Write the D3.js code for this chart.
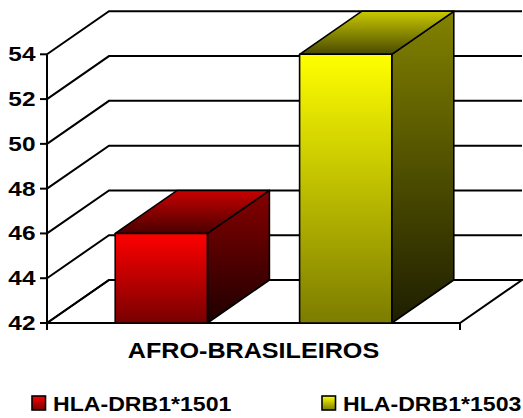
<!DOCTYPE html>
<html>
<head>
<meta charset="utf-8">
<script src="https://cdn.jsdelivr.net/npm/d3@7/dist/d3.min.js"></script>
<style>
  html, body { margin: 0; padding: 0; background: #fff; }
  svg { display: block; }
  text { font-family: "Liberation Sans", Arial, sans-serif; font-weight: bold; fill: #000; }
</style>
</head>
<body>
<svg id="chart" width="523" height="418"></svg>
<script>
// Chart data
const categories = ["AFRO-BRASILEIROS"];
const seriesNames = ["HLA-DRB1*1501", "HLA-DRB1*1503"];
const seriesValues = [46, 54];
const yTicks = [42, 44, 46, 48, 50, 52, 54];

// Face colours for each series: [light, dark] per face
const seriesColors = [
  { front: ["#ff0000", "#780000"], top: ["#c80000", "#4a0000"], side: ["#860000", "#1e0000"] },
  { front: ["#ffff00", "#7c7c00"], top: ["#c8c800", "#4a4a00"], side: ["#828200", "#1e1e00"] }
];

const svg = d3.select("#chart");

// Oblique 3D frame
const frontLeft = 47, frontRight = 460;
const depthX = 62, depthY = -43;

const y = d3.scaleLinear().domain([42, 54]).range([323, 54.3]);
const x0 = d3.scaleBand().domain(categories).range([frontLeft, frontRight]);
const x1 = d3.scaleBand().domain(seriesNames).range([0, x0.bandwidth()])
  .paddingInner(0.5).paddingOuter(0.37);

// Gradients
const defs = svg.append("defs");
function grad(id, c0, c1) {
  const g = defs.append("linearGradient").attr("id", id)
    .attr("x1", 0).attr("y1", 0).attr("x2", 0).attr("y2", 1);
  g.append("stop").attr("offset", "0%").attr("stop-color", c0);
  g.append("stop").attr("offset", "100%").attr("stop-color", c1);
}
seriesColors.forEach((c, i) => {
  grad("front" + i, c.front[0], c.front[1]);
  grad("top" + i, c.top[0], c.top[1]);
  grad("side" + i, c.side[0], c.side[1]);
});

const line = d3.line();
const yMin = y.domain()[0], yMax = y.domain()[1];

// Floor
svg.append("path")
  .attr("d", line([[frontLeft, y(yMin)], [frontLeft + depthX, y(yMin) + depthY],
                   [frontRight + depthX, y(yMin) + depthY], [frontRight, y(yMin)]]) + "Z")
  .attr("fill", "#fff").attr("stroke", "#000").attr("stroke-width", 2)
  .attr("stroke-linejoin", "miter");

// Back wall gridlines and left wall diagonals
const grid = svg.append("g").attr("stroke", "#000").attr("stroke-width", 2).attr("fill", "none");
yTicks.forEach(t => {
  grid.append("path").attr("d", line([
    [frontLeft, y(t)],
    [frontLeft + depthX, y(t) + depthY],
    [frontRight + depthX, y(t) + depthY]
  ]));
});

// Value axis
const axisG = svg.append("g");
axisG.append("line")
  .attr("x1", frontLeft).attr("x2", frontLeft)
  .attr("y1", y(yMax)).attr("y2", y(yMin) + 7)
  .attr("stroke", "#000").attr("stroke-width", 2);
yTicks.forEach(t => {
  axisG.append("line")
    .attr("x1", frontLeft - 7).attr("x2", frontLeft)
    .attr("y1", y(t)).attr("y2", y(t))
    .attr("stroke", "#000").attr("stroke-width", 2);
  axisG.append("text")
    .attr("transform", `translate(${frontLeft - 11.5},${y(t) + 7}) scale(1.22,1)`)
    .attr("text-anchor", "end")
    .attr("font-size", 20)
    .text(t);
});

// Category axis ticks
[frontLeft, frontRight].forEach(px => {
  svg.append("line")
    .attr("x1", px).attr("x2", px).attr("y1", y(yMin)).attr("y2", y(yMin) + 7)
    .attr("stroke", "#000").attr("stroke-width", 2);
});

// Bars
const bars = svg.append("g");
categories.forEach(cat => {
  seriesNames.forEach((s, i) => {
    const v = seriesValues[i];
    const xl = x0(cat) + x1(s), xr = xl + x1.bandwidth();
    const yt = y(v), yb = y(yMin);
    const g = bars.append("g")
      .attr("stroke", "#000").attr("stroke-width", 1.6).attr("stroke-linejoin", "round");
    // side face
    g.append("path")
      .attr("d", line([[xr, yt], [xr + depthX, yt + depthY], [xr + depthX, yb + depthY], [xr, yb]]) + "Z")
      .attr("fill", `url(#side${i})`);
    // top face
    g.append("path")
      .attr("d", line([[xl, yt], [xl + depthX, yt + depthY], [xr + depthX, yt + depthY], [xr, yt]]) + "Z")
      .attr("fill", `url(#top${i})`);
    // front face
    g.append("rect")
      .attr("x", xl).attr("y", yt).attr("width", xr - xl).attr("height", yb - yt)
      .attr("fill", `url(#front${i})`);
  });
});

// Category label
categories.forEach(cat => {
  svg.append("text")
    .attr("transform", `translate(${x0(cat) + x0.bandwidth() / 2},357.7) scale(1.17,1)`)
    .attr("text-anchor", "middle")
    .attr("font-size", 21.5)
    .text(cat);
});

// Legend
const legendX = [32, 322];
seriesNames.forEach((s, i) => {
  const g = svg.append("g").attr("transform", `translate(${legendX[i]},396)`);
  g.append("rect").attr("x", 0).attr("y", 0).attr("width", 13.5).attr("height", 14)
    .attr("fill", `url(#front${i})`).attr("stroke", "#000").attr("stroke-width", 1.6);
  g.append("text")
    .attr("transform", `translate(21,15) scale(1.1,1)`)
    .attr("font-size", 21)
    .text(s);
});
</script>
</body>
</html>
